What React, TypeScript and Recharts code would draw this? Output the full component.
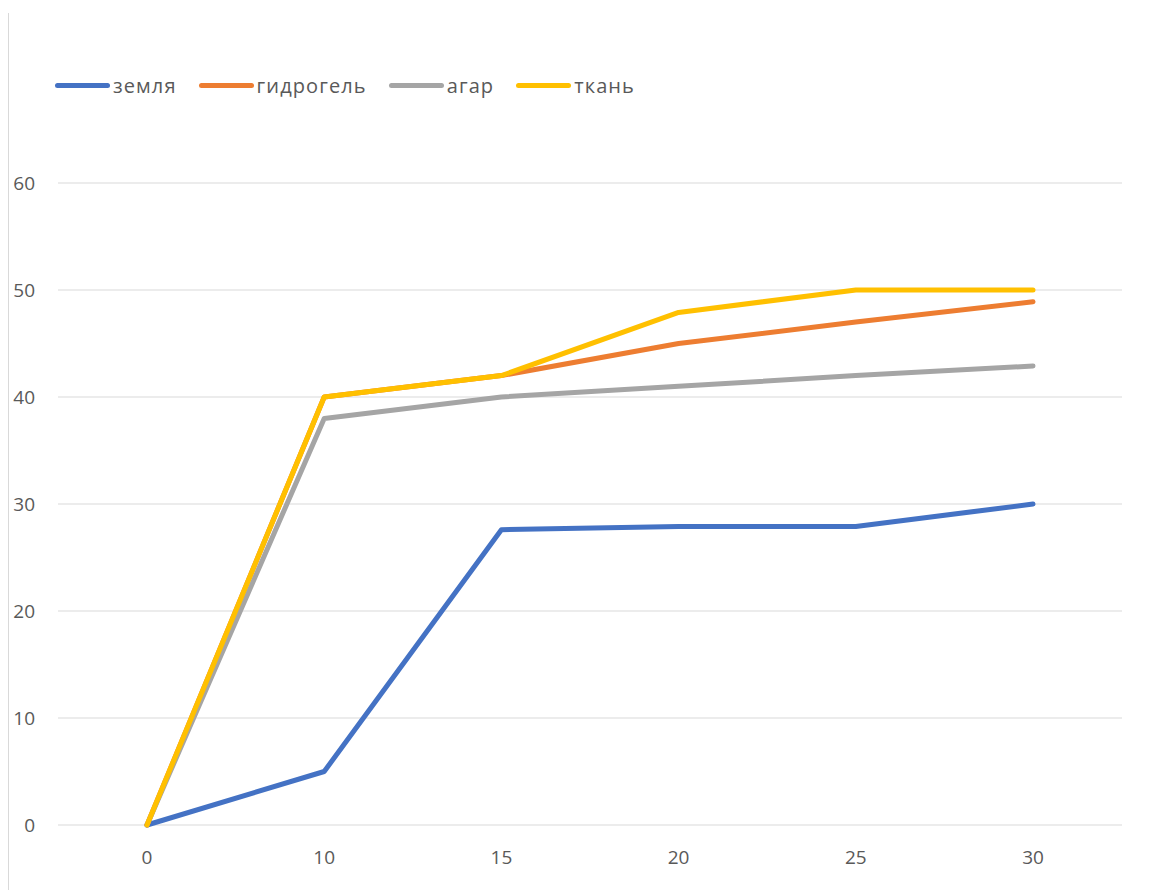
import React from "react";
import { LineChart, Line, XAxis, YAxis, CartesianGrid } from "recharts";

const categories = ["0", "10", "15", "20", "25", "30"];
const zemlya = [0, 5, 27.6, 27.9, 27.9, 30];
const gidrogel = [0, 40, 42, 45, 47, 48.9];
const agar = [0, 38, 40, 41, 42, 42.9];
const tkan = [0, 40, 42, 47.9, 50, 50];
const yTicks = [0, 10, 20, 30, 40, 50, 60];

const seriesDefs = [
  { key: "земля", color: "#4472C4", values: zemlya },
  { key: "гидрогель", color: "#ED7D31", values: gidrogel },
  { key: "агар", color: "#A5A5A5", values: agar },
  { key: "ткань", color: "#FFC000", values: tkan },
];

const data = categories.map((c, i) => {
  const row: any = { cat: c };
  seriesDefs.forEach((s) => (row[s.key] = s.values[i]));
  return row;
});

const FONT = "'Open Sans', 'Noto Sans', sans-serif";
const TEXT = "#595959";

function Legend() {
  return (
    <div
      style={{
        position: "absolute",
        left: 55,
        top: 72,
        display: "flex",
        alignItems: "center",
        fontFamily: FONT,
        fontSize: 20,
        letterSpacing: 1.1,
        color: TEXT,
      }}
    >
      {seriesDefs.map((s) => (
        <div key={s.key} style={{ display: "flex", alignItems: "center", marginRight: 22 }}>
          <div style={{ width: 55, height: 5, borderRadius: 3, background: s.color, marginRight: 3 }} />
          <span>{s.key}</span>
        </div>
      ))}
    </div>
  );
}

export default function App() {
  return (
    <div style={{ position: "absolute", left: 0, top: 0, width: 1150, height: 890, background: "#fff" }}>
      <div style={{ position: "absolute", left: 8, top: 13, width: 1, height: 877, background: "#d9d9d9" }} />
      <Legend />
      <LineChart
        width={1150}
        height={890}
        data={data}
        margin={{ top: 183, right: 28, bottom: 0, left: 0 }}
      >
        <CartesianGrid vertical={false} stroke="#d9d9d9" strokeWidth={1} />
        <XAxis
          dataKey="cat"
          axisLine={false}
          tickLine={false}
          height={65}
          tickMargin={20}
          padding={{ left: 89, right: 89 }}
          tick={{ fill: TEXT, fontSize: 19, fontFamily: FONT }}
        />
        <YAxis
          domain={[0, 60]}
          ticks={yTicks}
          width={58}
          axisLine={false}
          tickLine={false}
          tickSize={0}
          tickMargin={23}
          tick={{ fill: TEXT, fontSize: 19, fontFamily: FONT }}
        />
        {seriesDefs.map((s) => (
          <Line
            key={s.key}
            type="linear"
            dataKey={s.key}
            stroke={s.color}
            strokeWidth={5}
            strokeLinecap="round"
            strokeLinejoin="round"
            dot={false}
            activeDot={false}
            isAnimationActive={false}
          />
        ))}
      </LineChart>
    </div>
  );
}
